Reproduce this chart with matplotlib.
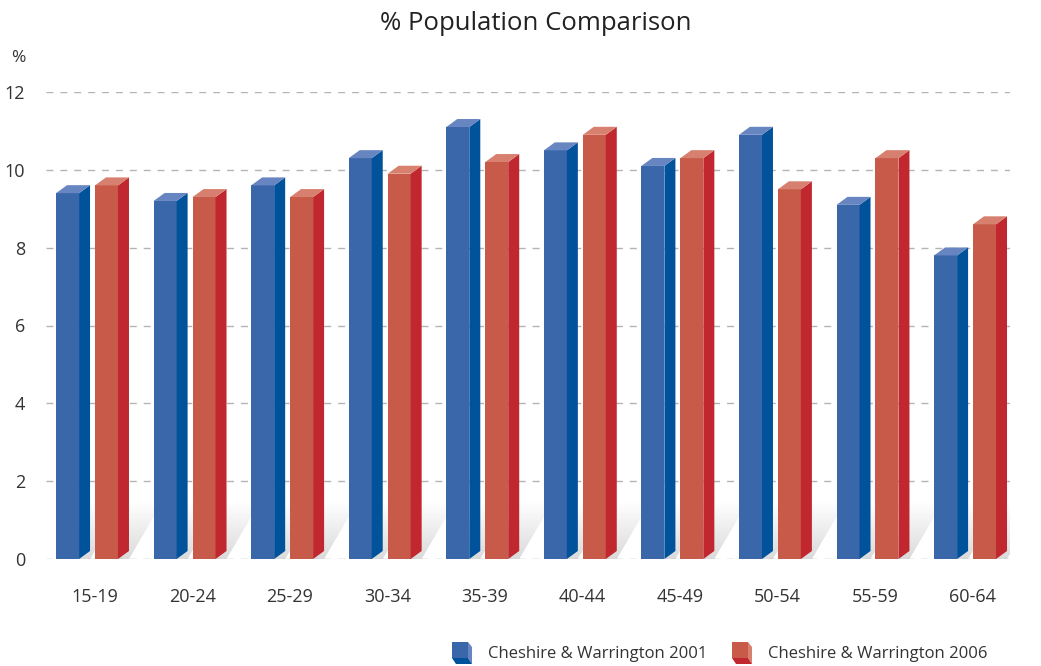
import numpy as np
import matplotlib
matplotlib.use("Agg")
import matplotlib.pyplot as plt
from matplotlib.patches import Polygon

plt.rcParams["font.family"] = ["Open Sans", "DejaVu Sans"]

age_groups = ["15-19", "20-24", "25-29", "30-34", "35-39",
              "40-44", "45-49", "50-54", "55-59", "60-64"]
pop_2001 = [9.4, 9.2, 9.6, 10.3, 11.1, 10.5, 10.1, 10.9, 9.1, 7.8]
pop_2006 = [9.6, 9.3, 9.3, 9.9, 10.2, 10.9, 10.3, 9.5, 10.3, 8.6]
series_names = ["Cheshire & Warrington 2001", "Cheshire & Warrington 2006"]

# front / side / top colours for each series
blue = ("#3a67aa", "#00529b", "#6785c0")
red = ("#c75a49", "#c0272f", "#d8806f")

W, H = 1041, 666
fig = plt.figure(figsize=(W / 100, H / 100), dpi=100)
ax_l, ax_r, ax_t, ax_b = 46, 1010, 92, 559
ax = fig.add_axes([ax_l / W, 1 - ax_b / H, (ax_r - ax_l) / W, (ax_b - ax_t) / H])

group_px = 97.56
x0 = -0.5
x1 = x0 + (ax_r - ax_l) / group_px
ymax = 12
ax.set_xlim(x0, x1)
ax.set_ylim(0, ymax)

px_x = 1 / group_px                 # data units per pixel
px_y = ymax / (ax_b - ax_t)

bar_w = 23 * px_x
dx, dy = 11 * px_x, 8 * px_y
offsets = [-0.397, 0.002]


def shadow(x, w, h):
    # soft grey shadow cast up and to the right of a bar base
    sx, sy = 34 * px_x, 58 * px_y
    verts = [(x, 0), (x + w + dx, 0), (x + w + dx + sx, sy), (x + sx, sy)]
    poly = Polygon(verts, closed=True, facecolor="none", edgecolor="none")
    ax.add_patch(poly)
    grad = np.zeros((64, 2, 4))
    grad[..., :3] = 0.55
    grad[..., 3] = np.linspace(0.32, 0.0, 64)[:, None]
    im = ax.imshow(grad, extent=(x, x + w + dx + sx, 0, sy), origin="lower",
                   aspect="auto", zorder=1, interpolation="bilinear")
    im.set_clip_path(poly)


def bar3d(xs, vals, cols):
    front, side, top = cols
    ax.bar(xs, vals, width=bar_w, align="edge", color=front, zorder=3,
           linewidth=0)
    for x, h in zip(xs, vals):
        shadow(x, bar_w, h)
        ax.add_patch(Polygon([(x + bar_w, 0), (x + bar_w + dx, dy),
                              (x + bar_w + dx, h + dy), (x + bar_w, h)],
                             closed=True, facecolor=side, edgecolor="none",
                             zorder=3, clip_on=False))
        ax.add_patch(Polygon([(x, h), (x + dx, h + dy),
                              (x + bar_w + dx, h + dy), (x + bar_w, h)],
                             closed=True, facecolor=top, edgecolor="none",
                             zorder=3, clip_on=False))


idx = np.arange(len(age_groups))
bar3d(idx + offsets[0], pop_2001, blue)
bar3d(idx + offsets[1], pop_2006, red)
ax.set_xlim(x0, x1)
ax.set_ylim(0, ymax)

# dashed horizontal grid
yt = np.arange(0, 13, 2)
for y in yt:
    ax.axhline(y, color="#b4b4b4", lw=1.0, ls=(0, (5, 5)), zorder=0)

for s in ax.spines.values():
    s.set_visible(False)
ax.set_yticks(yt)
ax.set_yticklabels([str(v) for v in yt])
ax.set_xticks(idx)
ax.set_xticklabels(age_groups)
ax.tick_params(axis="both", length=0, labelsize=13, colors="#333333")
ax.tick_params(axis="x", pad=21)
ax.tick_params(axis="y", pad=15)
ax.set_facecolor("none")

fig.text(18 / W, 1 - 58 / H, "%", ha="center", va="center",
         fontsize=12.5, color="#333333")
fig.text(536 / W, 1 - 23 / H, "% Population Comparison", ha="center",
         va="center", fontsize=18.5, color="#222222")

# legend with little box icons
def legend_icon(px, py, cols):
    front, side, top = cols
    def f(pts):
        return [(a / W, 1 - b / H) for a, b in pts]
    fig.add_artist(Polygon(f([(px + 16, py), (px + 20, py + 5), (px + 20, py + 22),
                              (px + 16, py + 16)]), closed=True,
                           facecolor=top, edgecolor="none",
                           transform=fig.transFigure))
    fig.add_artist(Polygon(f([(px, py + 16), (px + 16, py + 16), (px + 20, py + 22),
                              (px + 4, py + 22)]), closed=True,
                           facecolor=side, edgecolor="none",
                           transform=fig.transFigure))
    fig.add_artist(Polygon(f([(px, py), (px + 16, py), (px + 16, py + 16),
                              (px, py + 16)]), closed=True,
                           facecolor=front, edgecolor="none",
                           transform=fig.transFigure))


for (ix, tx), name, cols in zip([(452, 488), (732, 768)], series_names, [blue, red]):
    legend_icon(ix, 642, cols)
    fig.text(tx / W, 1 - 654 / H, name, ha="left", va="center",
             fontsize=12, color="#333333")

fig.savefig("out.png", dpi=100)
